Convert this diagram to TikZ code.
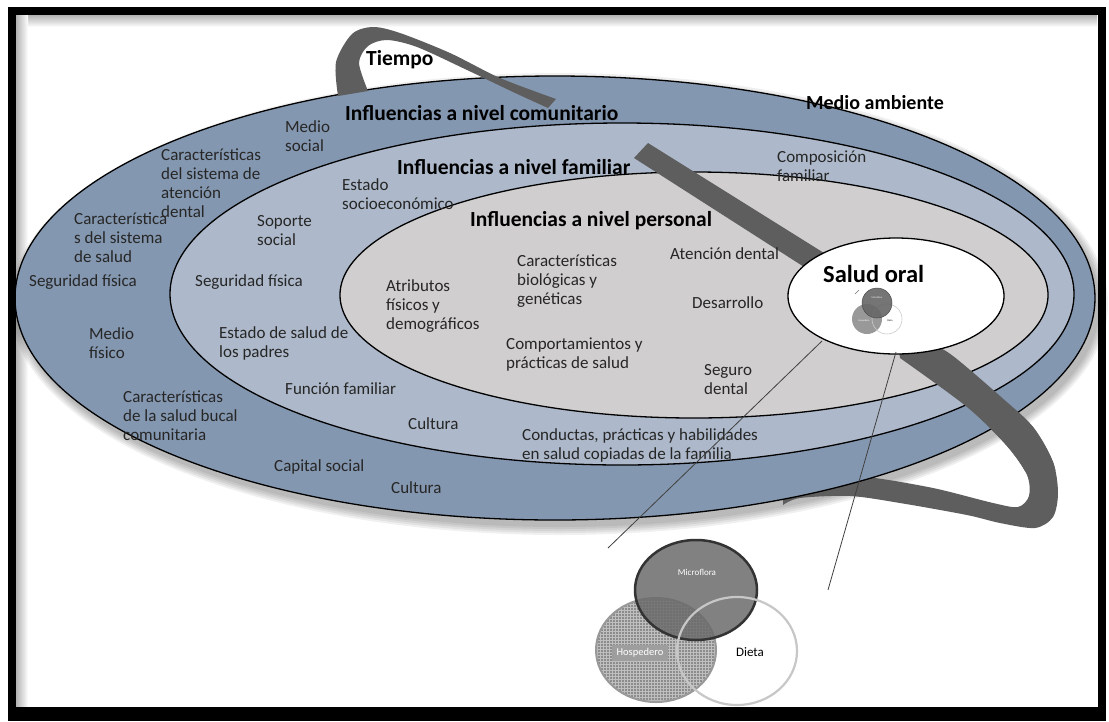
\documentclass[tikz,border=0pt]{standalone}
\usepackage{fontspec}
\setmainfont{Carlito}
\usetikzlibrary{patterns}
\definecolor{ringout}{HTML}{8497B0}
\definecolor{ringfam}{HTML}{ADB9CA}
\definecolor{ringper}{HTML}{D0CECE}
\definecolor{band}{HTML}{5E5E5E}
\definecolor{txt}{HTML}{262626}
\def\lowerbandpath{plot[smooth] coordinates {(898,344) (933,346) (953,356) (1000,396) (1033,427) (1053,462) (1058,493) (1053,517) (1035,528) (1000,523) (967,515) (900,503) (850,496) (800,498) (783,505)} -- plot[smooth] coordinates {(783,480) (817,476) (867,477) (933,488) (993,503) (1018,507) (1029,496) (1027,475) (1007,446) (967,407) (900,358)} -- cycle}
\begin{document}
\begin{tikzpicture}[x=1pt,y=-1pt,
  lab/.style={anchor=west, align=left, inner sep=0pt, text=txt,
    font=\fontsize{17}{19}\selectfont},
  head/.style={anchor=west, inner sep=0pt, text=black,
    font=\fontsize{21.5}{24}\selectfont\bfseries},
  ring/.style={draw=black, line width=1.3pt},
  link/.style={draw=black!75, line width=0.8pt}
]
\useasboundingbox (0,0) rectangle (1109,721);
\fill[white] (0,0) rectangle (1109,721);

% inner shadow of the frame
\shade[top color=black!30, bottom color=white] (16,15) rectangle (1097,27);
\shade[left color=black!30, right color=white] (16,15) rectangle (28,707);

% soft drop shadow under the outer ring
\foreach \r in {9,7,5,3,1}
  \fill[black, opacity=0.06] (559,304) ellipse [x radius=540pt+\r pt, y radius=222pt+\r pt];

% lower loop of the time band (passes under the rings)
\fill[band] \lowerbandpath;

% nested levels of influence
\fill[ringout, ring] (555,298) ellipse [x radius=540pt, y radius=222pt];
\fill[ringfam, ring] (622,294) ellipse [x radius=452pt, y radius=171pt];
\fill[ringper, ring] (694,295) ellipse [x radius=354pt, y radius=123pt];

% time band over the top
\fill[band] plot[smooth] coordinates {(338,96) (336,62) (352,34) (373,27) (400,33) (450,53) (500,78) (556,99)}
  -- plot[smooth] coordinates {(548,108) (513,92) (467,70) (417,47) (387,40) (368,46) (359,63) (368,91)} -- cycle;
% time band crossing the rings towards oral health
\fill[band] (634,158) -- (648,143) -- (832,258) -- (812,272) -- cycle;
% time band leaving oral health, drawn over the rings
\begin{scope}
  \clip (870,330) rectangle (1100,470);
  \fill[band] \lowerbandpath;
\end{scope}

% oral health
\fill[white, ring] (896,296) ellipse [x radius=108pt, y radius=58pt];
\node[head, font=\fontsize{24.5}{26}\selectfont\bfseries] (salud) at (823,274) {Salud oral};

% small copy of the three factors
\draw[black!55, line width=0.5pt] (855,294) -- (859,290);
\fill[black!40] (867,319) circle [radius=15pt];
\draw[black!20, line width=0.6pt] (887,319) circle [radius=15pt];
\fill[black!60, opacity=0.9] (877,303) circle [radius=15pt];
\draw[black!70, line width=0.5pt] (877,303) circle [radius=15pt];
\node[font=\fontsize{2.5}{3}\selectfont, text=white, inner sep=0pt] (mfs) at (877,298) {Microflora};
\node[font=\fontsize{2.5}{3}\selectfont, text=white, inner sep=0pt] (hos) at (864,321) {Hospedero};
\node[font=\fontsize{2.5}{3}\selectfont, text=black, inner sep=0pt] (dis) at (890,321) {Dieta};

% headings
\node[head] (tiempo) at (366,60) {Tiempo};
\node[head, font=\fontsize{20}{22}\selectfont\bfseries] (medio) at (806,103) {Medio ambiente};
\node[head] (comu) at (345,113) {Influencias a nivel comunitario};
\node[head] (fami) at (397,167) {Influencias a nivel familiar};
\node[head] (pers) at (470,221) {Influencias a nivel personal};

% community level
\node[lab] (ms)   at (285,136.5) {Medio\\social};
\node[lab] (csad) at (161,183.5) {Características\\del sistema de\\atención\\dental};
\node[lab] (css)  at (74,238)    {Característica\\s del sistema\\de salud};
\node[lab] (sf1)  at (29,282)    {Seguridad física};
\node[lab] (mf)   at (89,343)    {Medio\\físico};
\node[lab] (csb)  at (123,416)   {Características\\de la salud bucal\\comunitaria};
\node[lab] (cs)   at (274,467)   {Capital social};
\node[lab] (cu1)  at (391,488)   {Cultura};

% family level
\node[lab] (es)   at (342,194.5) {Estado\\socioeconómico};
\node[lab] (ss)   at (257,231)   {Soporte\\social};
\node[lab] (sf2)  at (195,282)   {Seguridad física};
\node[lab] (esp)  at (219,343.5) {Estado de salud de\\los padres};
\node[lab] (ff)   at (285,389)   {Función familiar};
\node[lab] (cu2)  at (408,424)   {Cultura};
\node[lab] (cpr)  at (522,445.5) {Conductas, prácticas y habilidades\\en salud copiadas de la familia};
\node[lab] (cf)   at (777,166.5) {Composición\\familiar};

% personal level
\node[lab] (at)   at (386,306)   {Atributos\\físicos y\\demográficos};
\node[lab] (cbg)  at (517,281)   {Características\\biológicas y\\genéticas};
\node[lab] (cps)  at (506,355)   {Comportamientos y\\prácticas de salud};
\node[lab] (ad)   at (670,254)   {Atención dental};
\node[lab] (de)   at (692,303)   {Desarrollo};
\node[lab] (sd)   at (704,379.5) {Seguro\\dental};

% enlarged view of the three factors
\coordinate (zA) at (822,341);
\coordinate (zB) at (896,352);
\coordinate (eA) at (608,548);
\coordinate (eB) at (828,590);
\draw[link] (zA) -- (eA);
\draw[link] (zB) -- (eB);

\fill[black!45] (656,650) ellipse [x radius=60pt, y radius=52pt];
\fill[pattern=grid, pattern color=black!25] (656,650) ellipse [x radius=60pt, y radius=52pt];
\draw[black!40, line width=2pt] (656,650) ellipse [x radius=60pt, y radius=52pt];
\fill[black!58, opacity=0.85] (696,590) ellipse [x radius=61pt, y radius=50pt];
\draw[black!80, line width=2.5pt] (696,590) ellipse [x radius=61pt, y radius=50pt];
\draw[black!22, line width=2.2pt] (737,651) ellipse [x radius=60pt, y radius=54pt];
\node[font=\fontsize{9}{10}\selectfont, text=white, inner sep=0pt] (micro) at (697,572) {Microflora};
\fill[black!38] (612,645) rectangle (668,661);
\node[font=\fontsize{10.5}{11}\selectfont, text=white, inner sep=0pt] (hosp) at (640,653) {Hospedero};
\node[font=\fontsize{13}{14}\selectfont, text=black, inner sep=0pt] (dieta) at (750,652) {Dieta};

% frame
\draw[black, line width=8pt] (12,11) rectangle (1102,711);
\fill[black] (8,707) rectangle (1106,721);
\end{tikzpicture}
\end{document}
